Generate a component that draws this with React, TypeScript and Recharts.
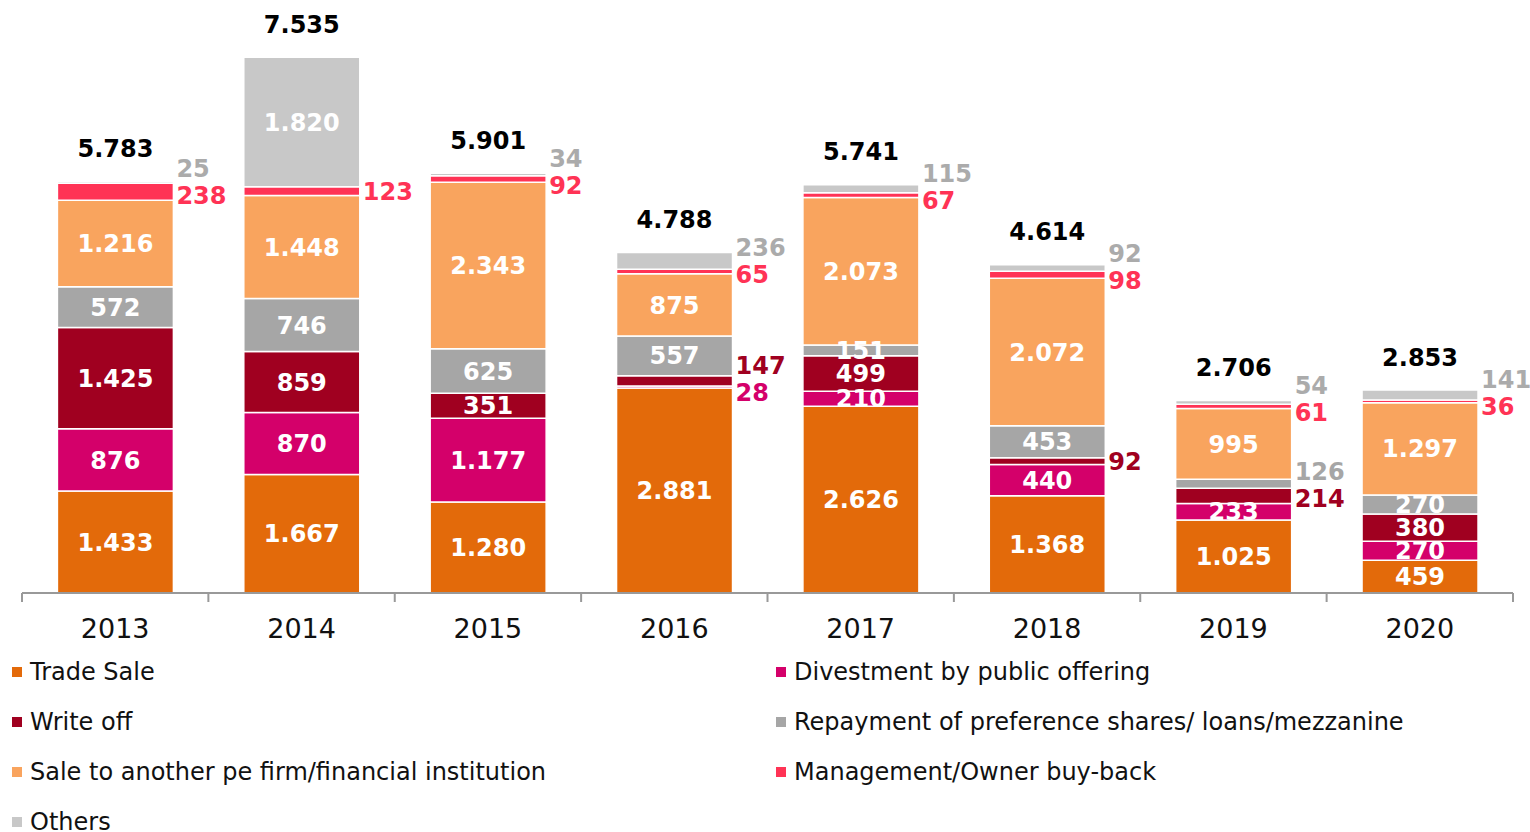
import React from 'react';
import { BarChart, Bar, XAxis, YAxis, LabelList } from 'recharts';

const years = ['2013', '2014', '2015', '2016', '2017', '2018', '2019', '2020'];
const tradeSale = [1433, 1667, 1280, 2881, 2626, 1368, 1025, 459];
const divestment = [876, 870, 1177, 28, 210, 440, 233, 270];
const writeOff = [1425, 859, 351, 147, 499, 92, 214, 380];
const repayment = [572, 746, 625, 557, 151, 453, 126, 270];
const saleToPe = [1216, 1448, 2343, 875, 2073, 2072, 995, 1297];
const buyBack = [238, 123, 92, 65, 67, 98, 61, 36];
const others = [25, 1820, 34, 236, 115, 92, 54, 141];
const totals = [5783, 7535, 5901, 4788, 5741, 4614, 2706, 2853];

// stack order bottom -> top; minInside = below this the label goes to the right of the bar
const series = [
  { key: 'tradeSale', name: 'Trade Sale', values: tradeSale, color: '#E36A0A', labelColor: '#E36A0A', minInside: 0 },
  { key: 'divestment', name: 'Divestment by public offering', values: divestment, color: '#D4006A', labelColor: '#D4006A', minInside: 200 },
  { key: 'writeOff', name: 'Write off', values: writeOff, color: '#A00020', labelColor: '#A00020', minInside: 300 },
  { key: 'repayment', name: 'Repayment of preference shares/ loans/mezzanine', values: repayment, color: '#A6A6A6', labelColor: '#A6A6A6', minInside: 150 },
  { key: 'saleToPe', name: 'Sale to another pe firm/financial institution', values: saleToPe, color: '#F9A45E', labelColor: '#F9A45E', minInside: 0 },
  { key: 'buyBack', name: 'Management/Owner buy-back', values: buyBack, color: '#FF3355', labelColor: '#FF3355', minInside: 500 },
  { key: 'others', name: 'Others', values: others, color: '#C8C8C8', labelColor: '#ABABAB', minInside: 500 },
];

const W = 1530;
const H = 832;
const M_LEFT = 22;
const M_RIGHT = 17;
const PLOT_TOP = 24;
const PLOT_BOTTOM = 593;
const XAXIS_H = 50;
const Y_MAX = 8000;
const BAND = (W - M_LEFT - M_RIGHT) / years.length;
const PX = (PLOT_BOTTOM - PLOT_TOP) / Y_MAX;
const FONT = '"DejaVu Sans", Verdana, sans-serif';
const GAP = 27;

const data = years.map((year, i) => {
  const row: Record<string, any> = { year, total: totals[i] };
  series.forEach((s) => (row[s.key] = s.values[i]));
  return row;
});

const fmt = (v: number) => String(v).replace(/\B(?=(\d{3})+(?!\d))/g, '.');

// y positions of the labels placed beside the bars, pushed apart when they crowd
const outsideY: Record<string, number>[] = years.map((_, i) => {
  let base = 0;
  const items: { key: string; c: number }[] = [];
  series.forEach((s) => {
    const v = s.values[i];
    if (v < s.minInside) items.push({ key: s.key, c: PLOT_BOTTOM - (base + v / 2) * PX });
    base += v;
  });
  items.sort((a, b) => a.c - b.c);
  const clusters: { key: string; c: number }[][] = [];
  items.forEach((it) => {
    const last = clusters[clusters.length - 1];
    if (last && it.c - last[last.length - 1].c < GAP) last.push(it);
    else clusters.push([it]);
  });
  const out: Record<string, number> = {};
  clusters.forEach((cl) => {
    const mean = cl.reduce((a, b) => a + b.c, 0) / cl.length;
    const start = cl.length > 1 ? mean - 5 - ((cl.length - 1) * GAP) / 2 : mean;
    cl.forEach((it, k) => (out[it.key] = start + k * GAP));
  });
  return out;
});

const YearTick = (props: any) => {
  const { x, payload, index } = props;
  return (
    <g>
      <line x1={x - BAND / 2} x2={x - BAND / 2} y1={PLOT_BOTTOM} y2={PLOT_BOTTOM + 9} stroke="#999" strokeWidth={2} />
      {index === years.length - 1 && (
        <line x1={x + BAND / 2} x2={x + BAND / 2} y1={PLOT_BOTTOM} y2={PLOT_BOTTOM + 9} stroke="#999" strokeWidth={2} />
      )}
      <text x={x} y={PLOT_BOTTOM + 45} textAnchor="middle" fontSize={27} fontFamily={FONT} fill="#111">
        {payload.value}
      </text>
    </g>
  );
};

const segmentLabel = (s: (typeof series)[number]) => (props: any) => {
  const { x, y, width, height, value, index } = props;
  if (value < s.minInside) {
    const ly = outsideY[index][s.key];
    return (
      <text x={x + width + 3} y={ly} dy="0.36em" fontSize={24} fontWeight="bold" fontFamily={FONT} fill={s.labelColor}>
        {fmt(value)}
      </text>
    );
  }
  return (
    <text x={x + width / 2} y={y + height / 2} dy="0.36em" textAnchor="middle" fontSize={24} fontWeight="bold" fontFamily={FONT} fill="#fff">
      {fmt(value)}
    </text>
  );
};

const totalLabel = (props: any) => {
  const { x, y, width, index } = props;
  return (
    <text x={x + width / 2} y={y - 33} dy="0.36em" textAnchor="middle" fontSize={24} fontWeight="bold" fontFamily={FONT} fill="#000">
      {fmt(totals[index])}
    </text>
  );
};

export default function App() {
  return (
    <div style={{ position: 'absolute', left: 0, top: 0, width: W, height: H, background: '#fff', fontFamily: FONT, overflow: 'hidden' }}>
      <BarChart
        width={W}
        height={H}
        data={data}
        margin={{ top: PLOT_TOP, right: M_RIGHT, left: M_LEFT, bottom: H - PLOT_BOTTOM - XAXIS_H }}
        barCategoryGap="19%"
      >
        <XAxis dataKey="year" height={XAXIS_H} axisLine={{ stroke: '#999', strokeWidth: 2 }} tickLine={false} tick={<YearTick />} interval={0} />
        <YAxis hide domain={[0, Y_MAX]} />
        {series.map((s, si) => (
          <Bar key={s.key} dataKey={s.key} name={s.name} stackId="a" fill={s.color} stroke="#fff" strokeWidth={1.5} isAnimationActive={false}>
            <LabelList dataKey={s.key} content={segmentLabel(s)} />
            {si === series.length - 1 && <LabelList dataKey="total" content={totalLabel} />}
          </Bar>
        ))}
      </BarChart>
      {series.map((s, i) => (
        <div
          key={s.key}
          style={{
            position: 'absolute',
            left: i % 2 === 0 ? 12 : 776,
            top: 672 + Math.floor(i / 2) * 50 - 10,
            height: 20,
            lineHeight: '20px',
            display: 'flex',
            alignItems: 'center',
            fontSize: 24,
            color: '#111',
            whiteSpace: 'nowrap',
          }}
        >
          <span style={{ display: 'inline-block', width: 10, height: 10, background: s.color, marginRight: 8 }} />
          {s.name}
        </div>
      ))}
    </div>
  );
}
